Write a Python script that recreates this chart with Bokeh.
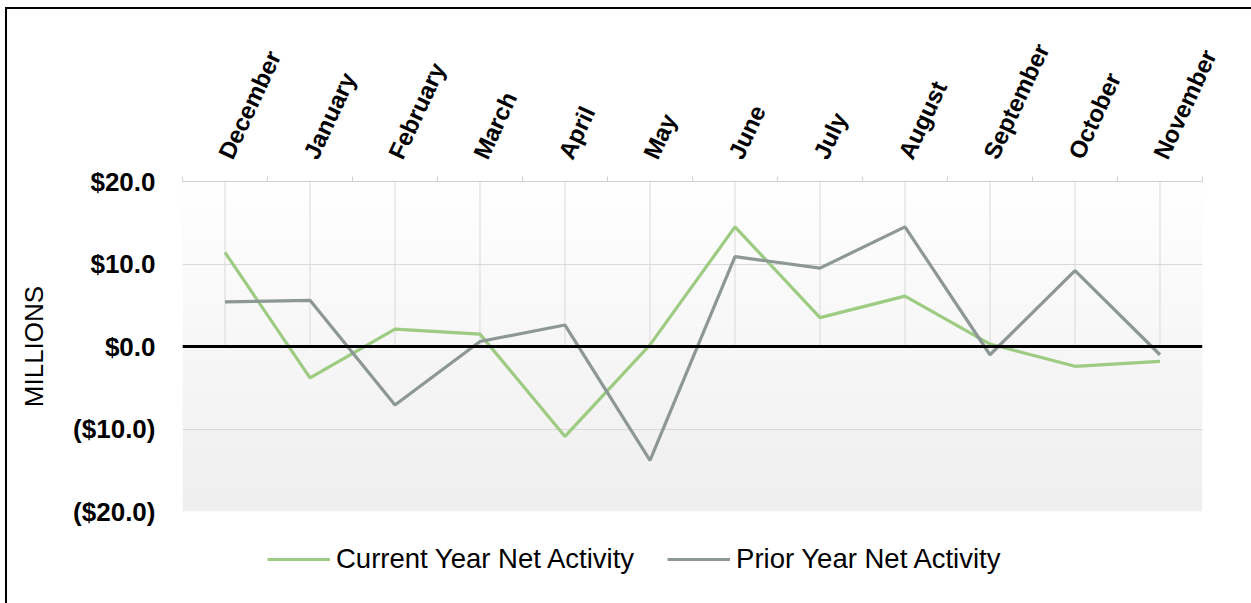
import numpy as np
from bokeh.plotting import figure
from bokeh.layouts import column, row, Spacer
from bokeh.models import Range1d, FixedTicker, Legend, LegendItem, Span, Div
from bokeh.embed import file_html
from bokeh.resources import INLINE

# ---- data ----
months = ["December", "January", "February", "March", "April", "May",
          "June", "July", "August", "September", "October", "November"]
current_year = [11.4, -3.8, 2.1, 1.5, -10.9, 0.2, 14.5, 3.5, 6.1, 0.3, -2.4, -1.8]
prior_year = [5.4, 5.6, -7.1, 0.6, 2.6, -13.8, 10.9, 9.5, 14.5, -1.0, 9.2, -1.0]
y_ticks = [-20, -10, 0, 10, 20]
y_tick_labels = ["($20.0)", "($10.0)", "$0.0", "$10.0", "$20.0"]
series_names = ["Current Year Net Activity", "Prior Year Net Activity"]
y_title = "MILLIONS"

FONT = "Liberation Sans"
GREEN = "#9dcb82"
GREY = "#8d9896"
GRID = "#d9d9d9"
LINE_W = 3.2

n = len(months)
centers = [i + 0.5 for i in range(n)]
bounds = list(range(n + 1))

# ---------------- main chart ----------------
p = figure(width=1244, height=521,
           x_range=Range1d(0, n), y_range=Range1d(min(y_ticks), max(y_ticks)),
           output_backend="svg", toolbar_location=None, x_axis_location="above",
           min_border_left=175, min_border_top=172, min_border_right=49, min_border_bottom=19,
           background_fill_color="white", border_fill_color="white", outline_line_color=None)

# gradient background of the plot area
rows = 120
t = np.linspace(0.0, 1.0, rows)[:, None]
img = np.zeros((rows, 1, 4), dtype=np.uint8)
shade = (239 + (255 - 239) * t).astype(np.uint8)
img[..., 0] = shade
img[..., 1] = shade
img[..., 2] = shade
img[..., 3] = 255
img32 = img.view(np.uint32).reshape(rows, 1)
p.image_rgba(image=[img32], x=0, y=min(y_ticks), dw=n, dh=max(y_ticks) - min(y_ticks), level="image")

# grids
p.xgrid.visible = False
p.ygrid.ticker = FixedTicker(ticks=[v for v in y_ticks if v != 0])
p.ygrid.grid_line_color = GRID
p.ygrid.grid_line_width = 1
p.segment(x0=centers, y0=[0] * n, x1=centers, y1=[max(y_ticks)] * n,
          line_color=GRID, line_width=1, level="underlay")

# x axis (top)
xa = p.xaxis[0]
xa.ticker = FixedTicker(ticks=centers, minor_ticks=bounds)
xa.major_label_overrides = {c: m for c, m in zip(centers, months)}
xa.major_label_orientation = np.radians(65)
xa.major_tick_in = 0
xa.major_tick_out = 0
xa.major_tick_line_color = None
xa.minor_tick_in = 0
xa.minor_tick_out = 5
xa.minor_tick_line_color = "#d0d0d0"
xa.axis_line_color = "#d0d0d0"
xa.major_label_text_font = FONT
xa.major_label_text_font_style = "bold"
xa.major_label_text_font_size = "24px"
xa.major_label_text_color = "black"
xa.major_label_standoff = 19

# y axis
ya = p.yaxis[0]
ya.ticker = FixedTicker(ticks=y_ticks)
ya.major_label_overrides = {v: l for v, l in zip(y_ticks, y_tick_labels)}
ya.major_label_text_font = FONT
ya.major_label_text_font_style = "bold"
ya.major_label_text_font_size = "26px"
ya.major_label_text_color = "black"
ya.major_label_standoff = 21
ya.axis_line_color = None
ya.major_tick_line_color = None
ya.minor_tick_line_color = None
ya.axis_label = y_title
ya.axis_label_text_font = FONT
ya.axis_label_text_font_style = "normal"
ya.axis_label_text_font_size = "26px"
ya.axis_label_text_color = "black"
ya.axis_label_standoff = 21

# zero line
p.add_layout(Span(location=0, dimension="width", line_color="black", line_width=3))

# series
p.line(centers, current_year, line_color=GREEN, line_width=LINE_W)
p.line(centers, prior_year, line_color=GREY, line_width=LINE_W)

# ---------------- legend strip ----------------
lg = figure(width=1244, height=73, x_range=Range1d(0, 1), y_range=Range1d(0, 1),
            output_backend="svg", toolbar_location=None,
            x_axis_location=None, y_axis_location=None,
            min_border=0, min_border_left=0, min_border_right=0,
            min_border_top=0, min_border_bottom=0,
            background_fill_color="white", border_fill_color="white", outline_line_color=None)
lg.xgrid.visible = False
lg.ygrid.visible = False
# legend proxies: the same series, placed outside this strip's visible range
lr1 = lg.line([c - 1000 for c in centers], current_year, line_color=GREEN, line_width=LINE_W)
lr2 = lg.line([c - 1000 for c in centers], prior_year, line_color=GREY, line_width=LINE_W)

legend = Legend(items=[LegendItem(label=series_names[0], renderers=[lr1]),
                       LegendItem(label=series_names[1], renderers=[lr2])],
                orientation="horizontal", location=(85, 28),
                glyph_width=63, glyph_height=30, label_height=30, label_standoff=6,
                spacing=33, padding=0, margin=0, border_line_color=None,
                background_fill_alpha=0, label_text_font=FONT, label_text_font_size="27.5px",
                label_text_color="black")
lg.add_layout(legend)

# ---------------- outer frame (black top and left edge) ----------------
top_edge = Div(text="", width=1246, height=2, margin=0, styles={"background-color": "black"})
left_edge = Div(text="", width=2, height=594, margin=0, styles={"background-color": "black"})

layout = column(
    Spacer(width=1251, height=7, margin=0),
    row(Spacer(width=5, height=596, margin=0),
        column(top_edge,
               row(left_edge, column(p, lg, spacing=0, margin=0), spacing=0, margin=0),
               spacing=0, margin=0),
        spacing=0, margin=0),
    spacing=0, margin=0)
open("out.html", "w").write(file_html(layout, INLINE))
